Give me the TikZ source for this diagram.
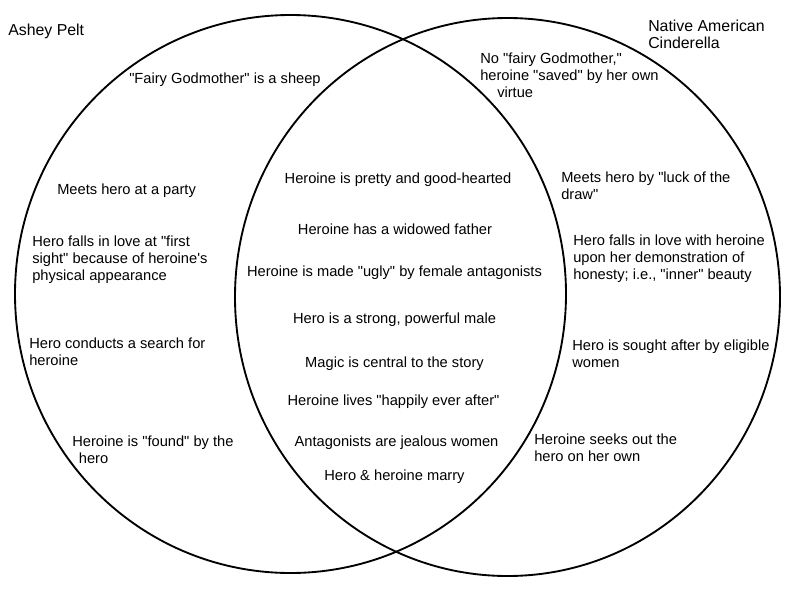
\documentclass[tikz,border=0pt]{standalone}
\usepackage{fontspec}
\setmainfont{Liberation Sans}
\newcommand{\qq}[1]{\textquotedbl #1\textquotedbl}
\begin{document}
\begin{tikzpicture}[x=0.75pt,y=-0.75pt,
    note/.style={font=\fontsize{11}{12.75}\selectfont, inner sep=0pt, align=left, anchor=base west},
    common/.style={font=\fontsize{11}{12.75}\selectfont, inner sep=0pt, anchor=base},
    title/.style={font=\fontsize{11.9}{12.75}\selectfont, inner sep=0pt, align=left, anchor=base west}]
	\useasboundingbox (0,0) rectangle (800,600);

	\draw[line width=1.4pt] (290.5,294) ellipse [x radius=275.5, y radius=279];
	\draw[line width=1.4pt] (507.5,297) ellipse [x radius=272.5, y radius=279];

	\node[title] (ashey) at (8,35) {Ashey Pelt};
	\node[title] (native) at (648,48) {Native American\\Cinderella};

	% Ashey Pelt only
	\node[note] (sheep) at (129,83) {\qq{Fairy Godmother} is a sheep};
	\node[note] (party) at (57,194) {Meets hero at a party};
	\node[note] (sight) at (32,280) {Hero falls in love at \qq{first\\sight} because of heroine\textquotesingle s\\physical appearance};
	\node[note] (search) at (29,365) {Hero conducts a search for\\heroine};
	\node[note] (found) at (72,463) {Heroine is \qq{found} by the\\\hspace*{5pt}hero};

	% both
	\node[common] (pretty) at (398,183) {Heroine is pretty and good-hearted};
	\node[common] (father) at (395,234) {Heroine has a widowed father};
	\node[common] (ugly) at (394.5,276) {Heroine is made \qq{ugly} by female antagonists};
	\node[common] (strong) at (394.5,323) {Hero is a strong, powerful male};
	\node[common] (magic) at (394.5,367) {Magic is central to the story};
	\node[common] (happily) at (393.5,405) {Heroine lives \qq{happily ever after}};
	\node[common] (jealous) at (396.5,446) {Antagonists are jealous women};
	\node[common] (marry) at (394.5,480) {Hero \& heroine marry};

	% Native American only
	\node[note] (virtue) at (480,97) {No \qq{fairy Godmother,}\\heroine \qq{saved} by her own\\\hspace*{12.75pt}virtue};
	\node[note] (luck) at (561,199) {Meets hero by \qq{luck of the\\draw}};
	\node[note] (inner) at (573,279) {Hero falls in love with heroine\\upon her demonstration of\\honesty; i.e., \qq{inner} beauty};
	\node[note] (sought) at (572,367) {Hero is sought after by eligible\\women};
	\node[note] (seeks) at (534,461) {Heroine seeks out the\\hero on her own};
\end{tikzpicture}
\end{document}
